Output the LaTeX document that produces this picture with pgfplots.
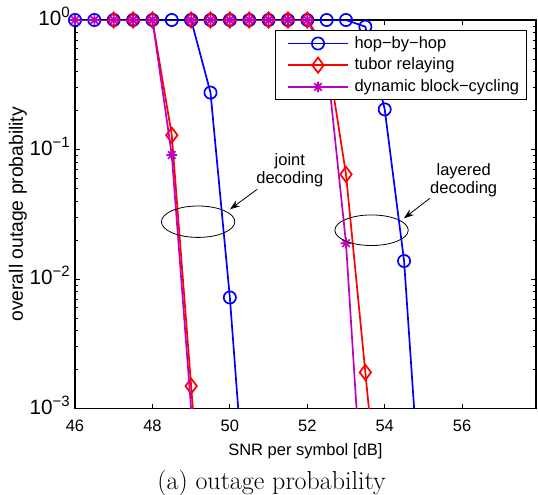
\documentclass[border=0pt]{standalone}
\usepackage{pgfplots}
\pgfplotsset{compat=1.18}
\usepackage{fontspec}
\newfontfamily\arial{Liberation Sans}
\usetikzlibrary{arrows.meta}
\definecolor{mblue}{rgb}{0,0,1}
\definecolor{mred}{rgb}{1,0,0}
\definecolor{mmag}{rgb}{0.75,0,0.75}
\pgfdeclareplotmark{mstar}{%
  \pgfpathmoveto{\pgfqpoint{0pt}{\pgfplotmarksize}}\pgfpathlineto{\pgfqpoint{0pt}{-\pgfplotmarksize}}%
  \pgfpathmoveto{\pgfqpoint{\pgfplotmarksize}{0pt}}\pgfpathlineto{\pgfqpoint{-\pgfplotmarksize}{0pt}}%
  \pgfpathmoveto{\pgfqpoint{.707\pgfplotmarksize}{.707\pgfplotmarksize}}\pgfpathlineto{\pgfqpoint{-.707\pgfplotmarksize}{-.707\pgfplotmarksize}}%
  \pgfpathmoveto{\pgfqpoint{-.707\pgfplotmarksize}{.707\pgfplotmarksize}}\pgfpathlineto{\pgfqpoint{.707\pgfplotmarksize}{-.707\pgfplotmarksize}}%
  \pgfusepathqstroke}
\newcommand{\yl}[1]{10\raisebox{8pt}{\fontsize{15}{15}\selectfont #1}}
\newcommand{\tf}{\arial\fontsize{16.5}{19}\selectfont}
\begin{document}
\begin{tikzpicture}
\begin{axis}[
  at={(0pt,0pt)}, anchor=south west,
  scale only axis, width=460.7pt, height=388.5pt,
  xmin=46, xmax=57.9, ymode=log, ymin=1e-3, ymax=1,
  xtick={46,48,50,52,54,56}, xticklabels={46,48,50,52,54,56},
  ytick={1e-3,1e-2,1e-1,1},
  yticklabels={\yl{−3},\yl{−2},\yl{−1},\yl{0}},
  xticklabel style={font=\tf, anchor=base, yshift=-22.5pt},
  yticklabel style={font=\arial\fontsize{20.7}{22}\selectfont, anchor=base east, inner xsep=0pt, xshift=-5pt, yshift=-5.5pt},
  tick align=inside, major tick length=5pt, minor tick length=2.8pt,
  tick style={black, line width=0.8pt},
  axis line style={line width=1.6pt},
  xlabel={SNR per symbol [dB]},
  ylabel={overall outage probability},
  xlabel style={font=\tf, at={(axis description cs:0.5,-0.1197)}, anchor=base},
  ylabel style={font=\arial\fontsize{19.3}{21}\selectfont, at={(axis description cs:-0.1237,0.5)}, anchor=center},
  clip mode=individual,
  legend style={at={(rel axis cs:0.98047,0.97426)}, anchor=north east,
    font=\tf, draw=black, fill=white, line width=1.1pt,
    inner xsep=5pt, inner ysep=2.1pt,
    nodes={inner sep=2pt, text height=13.5pt, text depth=4.2pt},
    column sep=3.7pt, row sep=0pt, cells={anchor=west}},
  legend image code/.code={%
    \path (0pt,0pt);
    \draw[mark indices={2}] plot coordinates {(6.3pt,0pt) (36.3pt,0pt) (66.3pt,0pt)};},
]
% legend images
\addlegendimage{draw=mblue, color=mblue, line width=1.7pt, mark=o, mark size=6.1pt, mark options={draw=mblue, line width=1.7pt}}
\addlegendentry{hop−by−hop}
\addlegendimage{draw=mred, color=mred, line width=1.7pt, mark=diamond, mark size=7.6pt, mark options={draw=mred, line width=1.7pt}}
\addlegendentry{tubor relaying}
\addlegendimage{draw=mmag, color=mmag, line width=1.7pt, mark=mstar, mark size=5.3pt, mark options={draw=mmag, line width=1.7pt}}
\addlegendentry{dynamic block−cycling}
% joint decoding
\addplot[color=mblue, line width=1.7pt, mark=o, mark size=6.1pt, mark indices={1,...,9}, forget plot] coordinates {
(46,1) (46.5,1) (47,1) (47.5,1) (48,1) (48.5,1) (49,1) (49.5,0.275) (50,0.0072) (50.5,7.4e-5)};
\addplot[color=mred, line width=1.7pt, mark=diamond, mark size=7.6pt, mark indices={1,...,5}, forget plot] coordinates {
(47,1) (47.5,1) (48,1) (48.5,0.129) (49,0.00149) (49.5,1.7e-5)};
\addplot[color=mmag, line width=1.7pt, mark=mstar, mark size=5.3pt, mark indices={1,...,7}, forget plot] coordinates {
(46,1) (46.5,1) (47,1) (47.5,1) (48,1) (48.5,0.0907) (49,0.00099) (49.5,1.1e-5)};
% layered decoding
\addplot[color=mblue, line width=1.7pt, mark=o, mark size=6.1pt, mark indices={1,...,12}, forget plot] coordinates {
(49,1) (49.5,1) (50,1) (50.5,1) (51,1) (51.5,1) (52,1) (52.5,1) (53,1) (53.5,0.888) (54,0.204) (54.5,0.01377) (55,8.9e-5)};
\addplot[color=mred, line width=1.7pt, mark=diamond, mark size=7.6pt, mark indices={1,...,10}, forget plot] coordinates {
(49,1) (49.5,1) (50,1) (50.5,1) (51,1) (51.5,1) (52,1) (52.5,0.588) (53,0.0643) (53.5,0.0019) (54,5.6e-5)};
\addplot[color=mmag, line width=1.7pt, mark=mstar, mark size=5.3pt, mark indices={1,...,9}, forget plot] coordinates {
(49,1) (49.5,1) (50,1) (50.5,1) (51,1) (51.5,1) (52,1) (52.5,0.5) (53,0.0189) (53.5,8.5e-5)};
% annotations
\draw[black, line width=0.8pt] (axis cs:49.18,0.0277) ellipse [x radius=36.7pt, y radius=15.7pt];
\draw[black, line width=0.8pt] (axis cs:53.66,0.0238) ellipse [x radius=36.7pt, y radius=15.3pt];
\draw[black, line width=0.8pt, -{Stealth[length=10pt,width=7pt]}] (axis cs:50.707,0.0493) -- (axis cs:50.002,0.03452);
\draw[black, line width=0.8pt, -{Stealth[length=10pt,width=7pt]}] (axis cs:55.166,0.04199) -- (axis cs:54.495,0.02942);
\node[font=\tf, anchor=base, inner sep=0pt] at (axis cs:51.55,0.0759) {joint};
\node[font=\tf, anchor=base, inner sep=0pt] at (axis cs:51.55,0.0551) {decoding};
\node[font=\tf, anchor=base, inner sep=0pt] at (axis cs:56.04,0.0635) {layered};
\node[font=\tf, anchor=base, inner sep=0pt] at (axis cs:56.04,0.0461) {decoding};
\end{axis}
\node[anchor=base, inner sep=0pt, font=\fontsize{26}{30}\selectfont] at (196.6pt,-81pt) {(a) outage probability};
\pgfresetboundingbox
\path (-75pt,-86.5pt) rectangle (463pt,408.5pt);
\end{tikzpicture}
\end{document}
